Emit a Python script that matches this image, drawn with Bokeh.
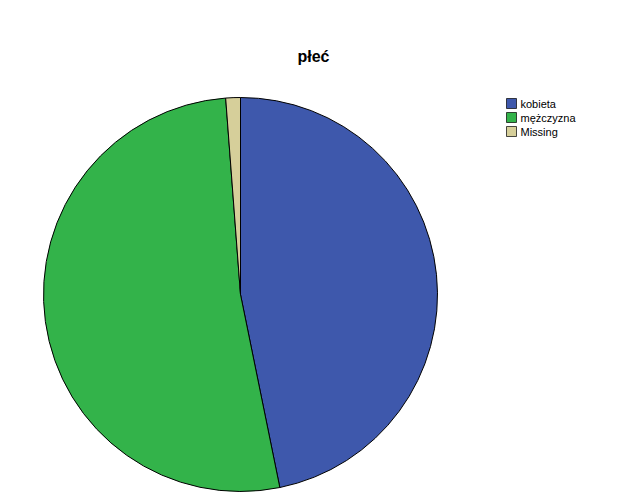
import math
from bokeh.plotting import figure
from bokeh.models import Range1d, ColumnDataSource
from bokeh.core.properties import value
from bokeh.embed import file_html
from bokeh.resources import INLINE

# Data
categories = ["kobieta", "mężczyzna", "Missing"]
percents = [46.8, 52.0, 1.2]
colors = ["#3E58AC", "#33B34A", "#D6CF9A"]
title_text = "płeć"

W, H = 624, 501
p = figure(width=W, height=H, output_backend="svg", toolbar_location=None,
           x_range=Range1d(0, W), y_range=Range1d(0, H), min_border=0)
p.axis.visible = False
p.grid.visible = False
p.outline_line_color = None
p.background_fill_color = "white"
p.border_fill_color = "white"

# pie geometry (screen units)
cx, cy, r = 240, H - 294, 197
total = sum(percents)
starts, ends = [], []
a = math.pi / 2
for v in percents:
    starts.append(a)
    a = a - 2 * math.pi * v / total
    ends.append(a)

src = ColumnDataSource(dict(cat=categories, start=starts, end=ends, color=colors))
p.wedge(x=cx, y=cy, radius=r, start_angle="start", end_angle="end", direction="clock",
        fill_color="color", line_color="black", line_width=1, source=src)

# title
p.text(x=[313], y=[H - 56], text=[title_text], text_font=value("Liberation Sans"),
       text_font_size="16px", text_font_style="bold", text_align="center",
       text_baseline="middle", text_color="black")

# legend
lx = 511
ly = [H - 103, H - 117, H - 131]
p.rect(x=[lx] * 3, y=ly, width=10, height=10, fill_color=colors, line_color="black", line_width=0.7)
p.text(x=[lx + 9] * 3, y=ly, text=categories, text_font=value("Liberation Sans"),
       text_font_size="11px", text_baseline="middle", text_align="left", text_color="black")

open("out.html", "w").write(file_html(p, INLINE))
